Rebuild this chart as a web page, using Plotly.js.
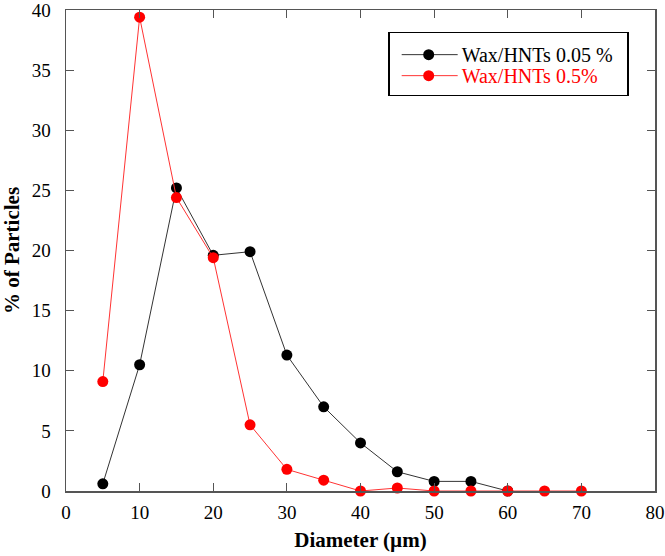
<!DOCTYPE html>
<html>
<head>
<meta charset="utf-8">
<script src="https://cdn.plot.ly/plotly-3.0.1.min.js"></script>
<style>html,body{margin:0;padding:0;background:#fff}#chart{width:665px;height:556px}</style>
</head>
<body>
<div id="chart"></div>
<script>
var diamBlack = [5, 10, 15, 20, 25, 30, 35, 40, 45, 50, 55, 60];
var pctBlack = [0.6, 10.5, 25.2, 19.6, 19.9, 11.3, 7.0, 4.0, 1.6, 0.8, 0.8, 0];
var diamRed = [5, 10, 15, 20, 25, 30, 35, 40, 45, 50, 55, 60, 65, 70];
var pctRed = [9.1, 39.4, 24.4, 19.4, 5.5, 1.8, 0.9, 0, 0.25, 0, 0, 0, 0, 0];
var seriesNames = ["Wax/HNTs 0.05 %", "Wax/HNTs 0.5%"];
var xTicks = [0, 10, 20, 30, 40, 50, 60, 70, 80];
var yTicks = [0, 5, 10, 15, 20, 25, 30, 35, 40];

var serif = "'Times New Roman', 'Liberation Serif', serif";
var traces = [
  {x: diamBlack, y: pctBlack, name: seriesNames[0], mode: "lines+markers", type: "scatter",
   line: {color: "#333333", width: 1}, marker: {color: "#000000", size: 11}, cliponaxis: false},
  {x: diamRed, y: pctRed, name: seriesNames[1], mode: "lines+markers", type: "scatter",
   line: {color: "#ff3333", width: 1}, marker: {color: "#ff0000", size: 11}, cliponaxis: false}
];
var axisCommon = {
  showgrid: false, zeroline: false, showline: true, linecolor: "#555555", linewidth: 1.5,
  mirror: "ticks", ticks: "inside", ticklen: 8, tickwidth: 1.2, tickcolor: "#555555",
  ticklabeloverflow: "allow",
  tickfont: {family: serif, size: 19, color: "#000"}
};
var layout = {
  width: 665, height: 556,
  margin: {l: 66, r: 10, t: 10, b: 65},
  paper_bgcolor: "#fff", plot_bgcolor: "#fff",
  showlegend: true,
  legend: {x: 0.547, y: 0.955, xanchor: "left", yanchor: "top",
    bordercolor: "#000", borderwidth: 1.5, bgcolor: "#fff", itemwidth: 62,
    font: {family: serif, size: 20, color: "#000"}, tracegroupgap: 0},
  xaxis: Object.assign({}, axisCommon, {range: [0, 80], tickvals: xTicks, ticklabelstandoff: 4,
    title: {text: "Diameter (µm)", font: {family: serif, size: 21, color: "#000", weight: "bold"}, standoff: 10}}),
  yaxis: Object.assign({}, axisCommon, {range: [0, 40], tickvals: yTicks, ticklabelstandoff: 10,
    title: {text: "% of Particles", font: {family: serif, size: 21, color: "#000", weight: "bold"}, standoff: 11}})
};
function getT(el) {
  var t = el.getAttribute("transform") || "";
  var m = /translate\(\s*([-\d.eE]+)[ ,]+([-\d.eE]+)\s*\)/.exec(t);
  return m ? [parseFloat(m[1]), parseFloat(m[2])] : [0, 0];
}
Plotly.newPlot("chart", traces, layout, {displayModeBar: false, staticPlot: true}).then(function(gd){
  var texts = gd.querySelectorAll(".legend .legendtext");
  if (texts[1]) texts[1].style.fill = "#ff0000";
  var items = gd.querySelectorAll(".legend .traces");
  if (items.length === 2) {
    var t0 = getT(items[0]);
    items[0].setAttribute("transform", "translate(" + t0[0] + "," + (t0[1] + 2) + ")");
    items[1].setAttribute("transform", "translate(" + t0[0] + "," + (t0[1] + 23) + ")");
  }
  gd.querySelectorAll(".legend .legendlines path").forEach(function(p){ p.setAttribute("d", "M12,0h56"); });
  gd.querySelectorAll(".legend .legendpoints").forEach(function(g){ g.setAttribute("transform", "translate(3,0)"); });
  var bg = gd.querySelector(".legend rect.bg");
  if (bg) { bg.setAttribute("height", 63); bg.setAttribute("width", 239); }
});
</script>
</body>
</html>
